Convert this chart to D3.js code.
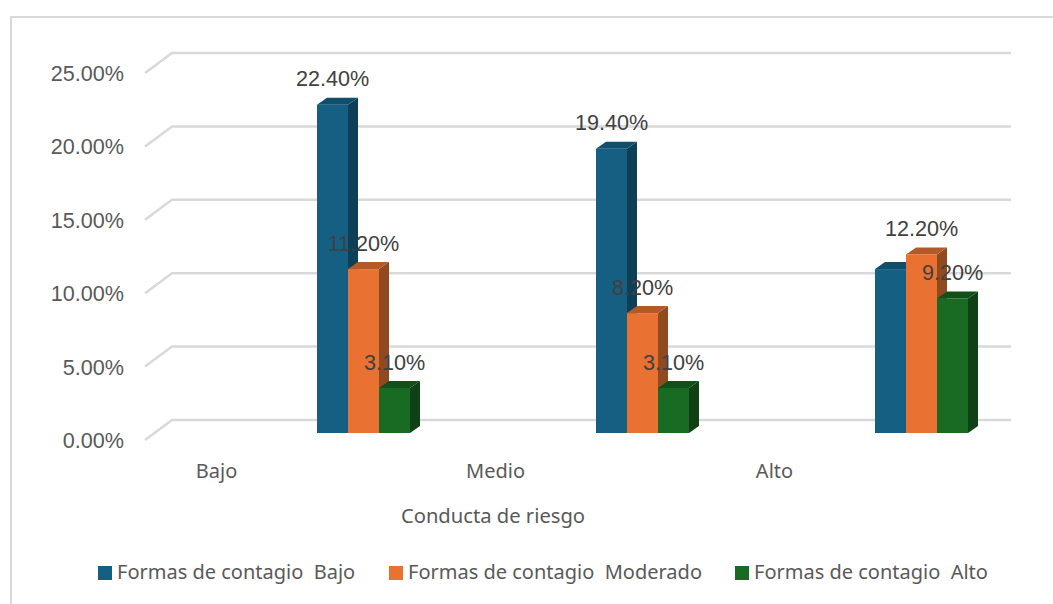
<!DOCTYPE html>
<html>
<head>
<meta charset="utf-8">
<script src="https://cdn.jsdelivr.net/npm/d3@7"></script>
<style>
html, body { margin: 0; padding: 0; background: #fff; overflow: hidden; }
</style>
</head>
<body>
<div id="chart"></div>
<script>
var categories = ["Bajo", "Medio", "Alto"];
var seriesNames = ["Formas de contagio  Bajo", "Formas de contagio  Moderado", "Formas de contagio  Alto"];
var serieBajo = [22.4, 19.4, 11.2];
var serieModerado = [11.2, 8.2, 12.2];
var serieAlto = [3.1, 3.1, 9.2];
var dataLabels = [
	["22.40%", "19.40%", null],
	["11.20%", "8.20%", "12.20%"],
	["3.10%", "3.10%", "9.20%"]
];
var yTicks = [0, 5, 10, 15, 20, 25];

var series = [serieBajo, serieModerado, serieAlto];
var front = ["#156082", "#E97132", "#196B24"];
var side = ["#0e3f56", "#8f4a20", "#0f4016"];
var top3d = ["#114e6b", "#b35a28", "#125019"];

var width = 1053, height = 604;
var axisFont = "'Liberation Sans', Arial, sans-serif";
var textFont = "'Noto Sans', sans-serif";

var svg = d3.select("#chart")
.append("svg")
.attr("width", width)
.attr("height", height);

// chart frame, open at the bottom and right
svg.append("path")
.attr("d", "M11,604V17H1053")
.attr("fill", "none")
.attr("stroke", "#d9d9d9")
.attr("stroke-width", 2);

// y is the height on the front plane, the wall and the bars are shifted back from it
var yScale = d3.scaleLinear()
.domain([0, 25])
.range([440, 73]);

var wallDx = 27, wallDy = -20;
var barDx = 10, barDy = -7;

var xScale = d3.scaleBand()
.domain(categories)
.range([38, 875]);

var groupScale = d3.scaleBand()
.domain(d3.range(series.length))
.range([0, 93]);

var wallLeft = 145 + wallDx, wallRight = 1011;

var grid = svg.append("g");
yTicks.forEach(function (t) {
	grid.append("path")
	.attr("d", "M145," + yScale(t) + "L" + wallLeft + "," + (yScale(t) + wallDy) + "H" + wallRight)
	.attr("fill", "none")
	.attr("stroke", "#d9d9d9")
	.attr("stroke-width", 2.5);
});

var yAxis = svg.append("g")
.attr("transform", "translate(145,0.5)")
.call(d3.axisLeft(yScale)
	.tickValues(yTicks)
	.tickSize(0)
	.tickPadding(21)
	.tickFormat(function (d) { return d.toFixed(2) + "%"; }));
yAxis.select(".domain").remove();
yAxis.selectAll("text")
.style("font-family", axisFont)
.style("font-size", "21.6px")
.style("fill", "#595959");

// bars: side and top faces first, then the front
var barWidth = groupScale.bandwidth();
var barOffset = 279;
series.forEach(function (values, s) {
	var g = svg.append("g");
	values.forEach(function (v, i) {
		var x0 = xScale(categories[i]) + barOffset + groupScale(s);
		var x1 = x0 + barWidth;
		var y0 = yScale(0) + barDy;
		var yTop = yScale(v) + barDy + 0.5;
		g.append("path")
		.attr("d", "M" + x1 + "," + yTop + "l" + barDx + "," + barDy + "V" + (y0 + barDy) + "l" + (-barDx) + "," + (-barDy) + "Z")
		.attr("fill", side[s]);
		g.append("path")
		.attr("d", "M" + x0 + "," + yTop + "l" + barDx + "," + barDy + "H" + (x1 + barDx) + "l" + (-barDx) + "," + (-barDy) + "Z")
		.attr("fill", top3d[s]);
		g.append("rect")
		.attr("x", x0)
		.attr("y", yTop)
		.attr("width", barWidth)
		.attr("height", y0 - yTop)
		.attr("fill", front[s]);
	});
});

// data labels go over all the bars
series.forEach(function (values, s) {
	values.forEach(function (v, i) {
		if (!dataLabels[s][i]) return;
		svg.append("text")
		.attr("x", xScale(categories[i]) + barOffset + groupScale(s) + barWidth / 2)
		.attr("y", yScale(v) + barDy - 25.5)
		.attr("dy", "0.35em")
		.attr("text-anchor", "middle")
		.style("font-family", axisFont)
		.style("font-size", "21.6px")
		.style("fill", "#404040")
		.text(dataLabels[s][i]);
	});
});

// category labels sit left of their bars, as in the original
svg.selectAll(".cat")
.data(categories)
.enter()
.append("text")
.attr("class", "cat")
.attr("x", function (d) { return xScale(d) + xScale.bandwidth() / 2 + 39; })
.attr("y", 478)
.attr("text-anchor", "middle")
.style("font-family", textFont)
.style("font-size", "20px")
.style("fill", "#595959")
.text(function (d) { return d; });

svg.append("text")
.attr("x", 493)
.attr("y", 523)
.attr("text-anchor", "middle")
.style("font-family", textFont)
.style("font-size", "20.2px")
.style("fill", "#595959")
.text("Conducta de riesgo");

// legend
var legendX = [98, 389, 735];
seriesNames.forEach(function (name, s) {
	svg.append("rect")
	.attr("x", legendX[s])
	.attr("y", 566)
	.attr("width", 14)
	.attr("height", 14)
	.attr("fill", front[s]);
	svg.append("text")
	.attr("x", legendX[s] + 19)
	.attr("y", 579)
	.attr("xml:space", "preserve")
	.style("white-space", "pre")
	.style("font-family", textFont)
	.style("font-size", "20px")
	.style("fill", "#595959")
	.text(name);
});
</script>
</body>
</html>
